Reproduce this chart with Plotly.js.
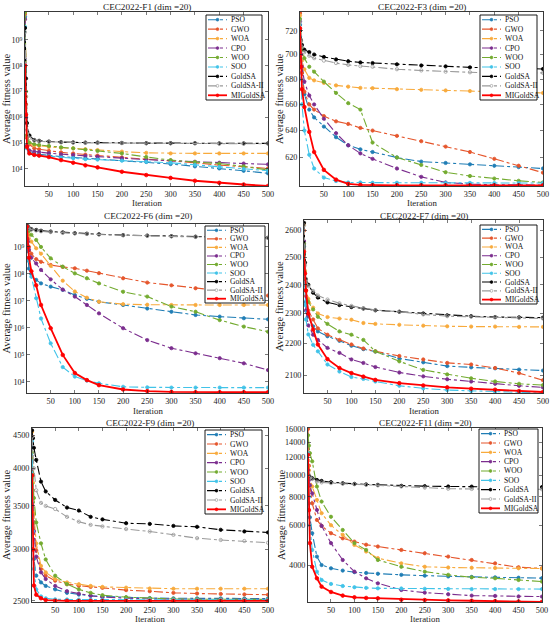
<!DOCTYPE html>
<html><head><meta charset="utf-8">
<script src="https://cdn.plot.ly/plotly-3.0.1.min.js"></script>
<style>html,body{margin:0;padding:0;background:#fff}#chart{width:550px;height:626px}</style>
</head><body><div id="chart"></div>
<script>
const iterations = [1, 3, 5, 10, 20, 30, 50, 75, 100, 125, 150, 200, 250, 300, 350, 400, 450, 500];
const algorithms = ['PSO', 'GWO', 'WOA', 'CPO', 'WOO', 'SOO', 'GoldSA', 'GoldSA-II', 'MIGoldSA'];
const xTickVals = [50, 100, 150, 200, 250, 300, 350, 400, 450, 500];
const panelTitles = ['CEC2022-F1 (dim =20)', 'CEC2022-F3 (dim =20)', 'CEC2022-F6 (dim =20)', 'CEC2022-F7 (dim =20)', 'CEC2022-F9 (dim =20)', 'CEC2022-F11 (dim =20)'];

// F1
const f1PSO = [7.9e9, 1.0e6, 7.9e4, 4.7e4, 4.0e4, 3.7e4, 3.3e4, 3.0e4, 2.8e4, 2.6e4, 2.5e4, 2.2e4, 1.86e4, 1.55e4, 1.26e4, 1.05e4, 8.5e3, 6.8e3];
const f1GWO = [1.0e10, 3.2e6, 1.6e5, 8.9e4, 6.3e4, 5.8e4, 5.0e4, 4.4e4, 4.0e4, 3.6e4, 3.3e4, 2.8e4, 2.4e4, 2.1e4, 1.74e4, 1.41e4, 1.2e4, 1.05e4];
const f1WOA = [1.2e10, 6.3e6, 2.0e5, 1.0e5, 8.3e4, 7.9e4, 7.1e4, 6.6e4, 6.3e4, 5.8e4, 5.4e4, 4.7e4, 4.2e4, 4.0e4, 4.0e4, 4.0e4, 4.0e4, 4.0e4];
const f1CPO = [6.3e9, 1.0e6, 7.9e4, 5.2e4, 4.7e4, 4.5e4, 4.1e4, 3.7e4, 3.5e4, 3.2e4, 3.0e4, 2.6e4, 2.3e4, 2.1e4, 1.9e4, 1.74e4, 1.62e4, 1.51e4];
const f1WOO = [1.2e10, 1.0e7, 2.0e5, 1.05e5, 9.1e4, 8.5e4, 7.8e4, 6.9e4, 6.3e4, 5.6e4, 5.0e4, 4.0e4, 2.9e4, 2.2e4, 1.86e4, 1.62e4, 1.26e4, 9.1e3];
const f1SOO = [3.2e9, 6.3e5, 6.3e4, 4.2e4, 3.6e4, 3.4e4, 3.1e4, 2.75e4, 2.6e4, 2.4e4, 2.3e4, 2.1e4, 1.9e4, 1.74e4, 1.45e4, 1.2e4, 1.0e4, 8.5e3];
const f1GoldSA = [2.9e9, 3.2e7, 6.0e5, 2.0e5, 1.32e5, 1.23e5, 1.15e5, 1.1e5, 1.07e5, 1.05e5, 1.05e5, 1.02e5, 1.0e5, 1.0e5, 1.0e5, 9.8e4, 9.8e4, 9.8e4];
const f1GoldSA2 = [2.0e9, 6.3e6, 3.2e5, 1.6e5, 1.26e5, 1.17e5, 1.12e5, 1.07e5, 1.05e5, 1.02e5, 1.02e5, 1.0e5, 9.8e4, 9.8e4, 9.8e4, 9.5e4, 9.5e4, 9.5e4];
const f1MIGoldSA = [1.0e8, 1.26e6, 7.1e4, 4.0e4, 3.5e4, 3.3e4, 2.9e4, 2.2e4, 1.74e4, 1.38e4, 1.15e4, 7.8e3, 5.8e3, 4.5e3, 3.5e3, 2.9e3, 2.5e3, 2.2e3];

// F3
const f3PSO = [725, 700, 685, 668, 656, 650, 643, 635, 629, 626, 624, 620, 617, 616, 615, 614, 613, 612];
const f3GWO = [735, 700, 685, 670, 660, 656, 651, 647, 645, 642, 640, 636, 632, 628, 624, 619, 614, 609];
const f3WOA = [733, 705, 695, 688, 681, 679, 677, 675, 674, 673, 672.8, 672, 671.5, 671, 670.5, 670, 669.5, 669];
const f3CPO = [728, 700, 690, 678, 667, 660, 649, 638, 629, 623, 619, 612, 606, 602, 600.8, 600.4, 600.3, 600.2];
const f3WOO = [730, 712, 705, 697, 690, 686, 678, 669, 661, 656, 631, 620, 614.6, 609.3, 606.6, 604.8, 603.2, 602];
const f3SOO = [715, 680, 660, 640, 622, 612, 605.5, 603, 602, 602, 601.8, 601.8, 601.8, 601.7, 601.7, 601.6, 601.6, 601.6];
const f3GoldSA = [720, 712, 708, 704, 702, 700, 698, 696, 694.5, 693.5, 693, 692, 691, 690.3, 689.5, 689, 688.5, 688.2];
const f3GoldSA2 = [728, 712, 706, 702, 699, 697, 695, 693, 691.5, 690.5, 690, 688, 687, 686, 685.5, 685, 685, 685];
const f3MIGoldSA = [722, 690, 672, 658, 639, 624, 611, 604, 601, 600.3, 600.1, 600, 600, 600, 600, 600, 600, 600];

// F6
const f6PSO = [1.26e9, 3.16e8, 1.58e8, 1.0e8, 6.03e7, 4.47e7, 3.39e7, 2.57e7, 1.66e7, 1.2e7, 9.33e6, 7.08e6, 5.25e6, 3.98e6, 3.02e6, 2.63e6, 2.29e6, 2.09e6];
const f6GWO = [6.31e9, 2.0e9, 1.0e9, 5.62e8, 3.55e8, 2.82e8, 2.14e8, 1.82e8, 1.62e8, 1.32e8, 1.07e8, 6.92e7, 4.79e7, 3.8e7, 2.95e7, 2.4e7, 1.9e7, 1.58e7];
const f6WOA = [6.61e9, 3.98e9, 2.82e9, 1.58e9, 8.91e8, 5.62e8, 2.0e8, 5.62e7, 2.24e7, 1.32e7, 9.33e6, 7.59e6, 7.24e6, 7.08e6, 7.08e6, 7.08e6, 7.08e6, 7.08e6];
const f6CPO = [6.31e9, 1.58e9, 7.94e8, 3.98e8, 2.45e8, 1.41e8, 6.31e7, 2.63e7, 1.45e7, 7.08e6, 3.47e6, 9.77e5, 3.55e5, 1.78e5, 1.15e5, 7.59e4, 4.9e4, 2.75e4];
const f6WOO = [7.08e9, 5.01e9, 3.98e9, 2.82e9, 1.82e9, 1.0e9, 3.8e8, 1.86e8, 1.05e8, 6.92e7, 4.47e7, 2.19e7, 1.45e7, 6.17e6, 3.98e6, 1.95e6, 1.12e6, 7.24e5];
const f6SOO = [5.01e9, 1.0e9, 3.16e8, 7.94e7, 1.26e7, 2.24e6, 2.69e5, 3.55e4, 1.58e4, 1.12e4, 8.91e3, 6.61e3, 6.31e3, 6.17e3, 6.17e3, 6.17e3, 6.17e3, 6.17e3];
const f6GoldSA = [6.61e9, 5.62e9, 5.01e9, 4.57e9, 4.27e9, 3.98e9, 3.72e9, 3.47e9, 3.24e9, 3.09e9, 2.95e9, 2.75e9, 2.63e9, 2.51e9, 2.4e9, 2.34e9, 2.24e9, 2.19e9];
const f6GoldSA2 = [6.31e9, 5.25e9, 4.79e9, 4.37e9, 4.07e9, 3.8e9, 3.55e9, 3.31e9, 3.16e9, 3.02e9, 2.88e9, 2.69e9, 2.57e9, 2.45e9, 2.34e9, 2.29e9, 2.19e9, 2.14e9];
const f6MIGoldSA = [5.62e9, 1.0e9, 3.98e8, 1.26e8, 3.8e7, 7.08e6, 9.77e5, 1.0e5, 2.14e4, 1.17e4, 7.59e3, 5.25e3, 4.57e3, 4.27e3, 4.17e3, 4.17e3, 4.17e3, 4.17e3];

// F7
const f7PSO = [2540, 2400, 2340, 2290, 2257, 2240, 2224, 2209, 2193, 2182, 2174, 2152, 2140, 2128, 2124, 2121, 2117, 2114];
const f7GWO = [2600, 2420, 2360, 2310, 2280, 2250, 2229, 2212, 2197, 2184, 2175, 2160, 2149, 2138, 2133, 2122, 2106, 2084];
const f7WOA = [2625, 2450, 2400, 2350, 2320, 2300, 2288, 2283, 2279, 2268, 2265, 2262, 2259, 2257, 2256, 2256, 2255, 2255];
const f7CPO = [2560, 2380, 2310, 2260, 2229, 2212, 2186, 2170, 2149, 2138, 2125, 2108, 2096, 2087, 2080, 2073, 2067, 2062];
const f7WOO = [2550, 2420, 2380, 2340, 2314, 2289, 2265, 2240, 2229, 2212, 2175, 2143, 2116, 2102, 2090, 2080, 2073, 2069];
const f7SOO = [2480, 2330, 2280, 2230, 2196, 2175, 2133, 2111, 2094, 2088, 2080, 2067, 2059, 2054, 2051, 2049, 2047, 2045];
const f7GoldSA = [2630, 2480, 2420, 2400, 2372, 2355, 2338, 2329, 2322, 2317, 2311, 2306, 2300, 2294, 2291, 2288, 2287, 2286];
const f7GoldSA2 = [2620, 2470, 2420, 2395, 2378, 2362, 2348, 2335, 2326, 2318, 2312, 2306, 2297, 2291, 2289, 2287, 2285, 2283];
const f7MIGoldSA = [2520, 2440, 2380, 2300, 2246, 2197, 2150, 2122, 2106, 2095, 2085, 2075, 2068, 2062, 2058, 2055, 2051, 2048];

// F9
const f9PSO = [3950, 3200, 2900, 2733, 2669, 2636, 2604, 2572, 2556, 2545, 2540, 2530, 2525, 2523, 2522, 2522, 2521, 2521];
const f9GWO = [4480, 3700, 3300, 2990, 2798, 2733, 2685, 2652, 2636, 2627, 2618, 2597, 2587, 2572, 2566, 2562, 2558, 2555];
const f9WOA = [4550, 3800, 3400, 3065, 2830, 2766, 2701, 2669, 2652, 2636, 2627, 2620, 2612, 2610, 2610, 2610, 2610, 2610];
const f9CPO = [4300, 3600, 3200, 2925, 2766, 2701, 2636, 2587, 2565, 2546, 2533, 2523, 2517, 2515, 2514, 2514, 2513, 2513];
const f9WOO = [4230, 3900, 3600, 3300, 3065, 2895, 2733, 2652, 2604, 2572, 2551, 2533, 2523, 2517, 2515, 2514, 2513, 2513];
const f9SOO = [4400, 3200, 2800, 2604, 2540, 2523, 2514, 2512, 2511, 2511, 2511, 2510, 2510, 2510, 2510, 2510, 2510, 2510];
const f9GoldSA = [4575, 4450, 4300, 4120, 3815, 3684, 3575, 3480, 3443, 3367, 3337, 3292, 3284, 3261, 3250, 3216, 3197, 3186];
const f9GoldSA2 = [4470, 4200, 4000, 3700, 3538, 3500, 3462, 3367, 3310, 3273, 3254, 3224, 3197, 3159, 3122, 3102, 3091, 3072];
const f9MIGoldSA = [3900, 3000, 2640, 2555, 2523, 2507, 2501, 2500, 2500, 2500, 2500, 2500, 2500, 2500, 2500, 2500, 2500, 2500];

// F11
const f11PSO = [9000, 7500, 6500, 5530, 4360, 4000, 3870, 3780, 3720, 3690, 3660, 3620, 3590, 3560, 3545, 3530, 3515, 3500];
const f11GWO = [16000, 11000, 9000, 7500, 6330, 5960, 5530, 5250, 5080, 4920, 4830, 4663, 4510, 4360, 4211, 4070, 3910, 3870];
const f11WOA = [12500, 10500, 9800, 8900, 7760, 6780, 6000, 5440, 4910, 4590, 4290, 4070, 3930, 3900, 3890, 3880, 3870, 3860];
const f11CPO = [10500, 9500, 9000, 8300, 7010, 5960, 5000, 4211, 3740, 3495, 3320, 3102, 3020, 2970, 2930, 2920, 2905, 2900];
const f11WOO = [15000, 13500, 12500, 11500, 8900, 7630, 6540, 5716, 5000, 4663, 4211, 3930, 3740, 3620, 3530, 3495, 3435, 3380];
const f11SOO = [12500, 8000, 6000, 4663, 3740, 3435, 3300, 3230, 3190, 3170, 3155, 3150, 3140, 3135, 3130, 3130, 3130, 3130];
const f11GoldSA = [10000, 9900, 9800, 9680, 9513, 9420, 9300, 9200, 9140, 9090, 9050, 8960, 8930, 8900, 8890, 8880, 8860, 8850];
const f11GoldSA2 = [10300, 10000, 9800, 9600, 9350, 9280, 9210, 9150, 9110, 9050, 9000, 8900, 8800, 8700, 8680, 8670, 8660, 8650];
const f11MIGoldSA = [12300, 7000, 5000, 3930, 3495, 3210, 3040, 2930, 2880, 2860, 2850, 2810, 2800, 2790, 2780, 2770, 2760, 2750];

// y tick values and labels
const f1YTicks = [1e4, 1e5, 1e6, 1e7, 1e8, 1e9];
const f1YLabels = ['10⁴', '10⁵', '10⁶', '10⁷', '10⁸', '10⁹'];
const f3YTicks = [620, 640, 660, 680, 700, 720];
const f6YTicks = [1e4, 1e5, 1e6, 1e7, 1e8, 1e9];
const f6YLabels = ['10⁴', '10⁵', '10⁶', '10⁷', '10⁸', '10⁹'];
const f7YTicks = [2100, 2200, 2300, 2400, 2500, 2600];
const f9YTicks = [2500, 3000, 3500, 4000, 4500];
const f11YTicks = [4000, 6000, 8000, 10000, 12000, 14000, 16000];

// ---- styling / layout (not data) ----
const W = 550, H = 626;
const FONT = 'Liberation Serif, Times New Roman, serif';
const colors = ['#1f7db5', '#e5562c', '#f8aa3c', '#7b2d8e', '#73ab30', '#41c3e8', '#000000', '#9a9a9a', '#ff0000'];
const symbols = ['circle', 'circle', 'circle', 'circle', 'circle', 'circle', 'circle', 'circle-open', 'circle'];

const panels = [
  {series: [f1PSO, f1GWO, f1WOA, f1CPO, f1WOO, f1SOO, f1GoldSA, f1GoldSA2, f1MIGoldSA], ticks: f1YTicks, labels: f1YLabels, range: [3.34, 10.08],
   box: [25, 12, 268, 186], leg: [206, 15, 262, 100], titleY: 7, xlabY: 203, ylabX: 6},
  {series: [f3PSO, f3GWO, f3WOA, f3CPO, f3WOO, f3SOO, f3GoldSA, f3GoldSA2, f3MIGoldSA], ticks: f3YTicks, labels: null, range: [Math.log10(599.5), Math.log10(736)],
   box: [300, 12, 543, 186], leg: [480, 15, 537, 100], titleY: 7, xlabY: 203, ylabX: 279},
  {series: [f6PSO, f6GWO, f6WOA, f6CPO, f6WOO, f6SOO, f6GoldSA, f6GoldSA2, f6MIGoldSA], ticks: f6YTicks, labels: f6YLabels, range: [3.59, 9.85],
   box: [27, 224, 268, 393], leg: [205, 226, 265, 303], titleY: 216, xlabY: 411, ylabX: 6},
  {series: [f7PSO, f7GWO, f7WOA, f7CPO, f7WOO, f7SOO, f7GoldSA, f7GoldSA2, f7MIGoldSA], ticks: f7YTicks, labels: null, range: [Math.log10(2045), Math.log10(2641)],
   box: [304, 220, 543, 393], leg: [480, 225, 537, 304], titleY: 216, xlabY: 411, ylabX: 279},
  {series: [f9PSO, f9GWO, f9WOA, f9CPO, f9WOO, f9SOO, f9GoldSA, f9GoldSA2, f9MIGoldSA], ticks: f9YTicks, labels: null, range: [Math.log10(2490), Math.log10(4613)],
   box: [32, 428, 268, 602], leg: [205, 430, 262, 514], titleY: 423, xlabY: 619, ylabX: 6},
  {series: [f11PSO, f11GWO, f11WOA, f11CPO, f11WOO, f11SOO, f11GoldSA, f11GoldSA2, f11MIGoldSA], ticks: f11YTicks, labels: null, range: [Math.log10(2745), Math.log10(16150)],
   box: [308, 428, 542, 602], leg: [479, 429, 538, 513], titleY: 423, xlabY: 619, ylabX: 281}
];

const traces = [];
const layout = {width: W, height: H, margin: {l: 0, r: 0, t: 0, b: 0}, paper_bgcolor: '#fff', plot_bgcolor: '#fff',
  showlegend: false, shapes: [], annotations: [], font: {family: FONT, size: 8}};

const axisCommon = {ticks: 'inside', ticklen: 3, tickwidth: 0.6, tickcolor: '#222', showline: true, linecolor: '#222', linewidth: 0.9,
  mirror: 'ticks', showgrid: false, zeroline: false, fixedrange: true, tickfont: {family: FONT, size: 8.2, color: '#222'}};

panels.forEach((p, k) => {
  const n = k === 0 ? '' : String(k + 1);
  const [bx0, by0, bx1, by1] = p.box;
  layout['xaxis' + n] = Object.assign({}, axisCommon, {domain: [bx0 / W, bx1 / W], anchor: 'y' + n, range: [1, 500],
    tickmode: 'array', tickvals: xTickVals, ticktext: xTickVals.map(String)});
  layout['yaxis' + n] = Object.assign({}, axisCommon, {domain: [1 - by1 / H, 1 - by0 / H], anchor: 'x' + n, type: 'log', range: p.range,
    tickmode: 'array', tickvals: p.ticks, ticktext: p.labels ? p.labels : p.ticks.map(String)});

  p.series.forEach((ys, i) => {
    const isMain = i === 8;
    traces.push({x: iterations, y: ys, type: 'scatter', mode: 'lines+markers', name: algorithms[i],
      xaxis: 'x' + n, yaxis: 'y' + n, showlegend: false,
      line: {color: colors[i], width: isMain ? 1.8 : 1.1, dash: isMain ? 'solid' : 'dashdot'},
      marker: {color: colors[i], size: isMain ? 3.6 : 3.3, symbol: symbols[i], line: {color: colors[i], width: 0.8}}});
  });

  const cx = (bx0 + bx1) / 2;
  layout.annotations.push({xref: 'paper', yref: 'paper', x: cx / W, y: 1 - p.titleY / H, xanchor: 'center', yanchor: 'middle',
    text: panelTitles[k], showarrow: false, font: {family: FONT, size: 9.2, color: '#222'}});
  layout.annotations.push({xref: 'paper', yref: 'paper', x: cx / W, y: 1 - p.xlabY / H, xanchor: 'center', yanchor: 'middle',
    text: 'Iteration', showarrow: false, font: {family: FONT, size: 8.8, color: '#222'}});
  layout.annotations.push({xref: 'paper', yref: 'paper', x: p.ylabX / W, y: 1 - (by0 + by1) / 2 / H, xanchor: 'center', yanchor: 'middle',
    text: 'Average fitness value', textangle: -90, showarrow: false, font: {family: FONT, size: 10.5, color: '#222'}});

  // legend box (drawn by hand so its rows can be as tight as the reference)
  const [lx0, ly0, lx1, ly1] = p.leg;
  layout.shapes.push({type: 'rect', xref: 'paper', yref: 'paper', x0: lx0 / W, x1: lx1 / W, y0: 1 - ly1 / H, y1: 1 - ly0 / H,
    line: {color: '#000', width: 0.9}, fillcolor: '#fff', layer: 'above'});
  const rowH = (ly1 - ly0) / algorithms.length;
  algorithms.forEach((a, i) => {
    const cy = ly0 + rowH * (i + 0.5);
    const isMain = i === 8;
    layout.shapes.push({type: 'line', xref: 'paper', yref: 'paper', x0: (lx0 + 2) / W, x1: (lx0 + 21) / W, y0: 1 - cy / H, y1: 1 - cy / H,
      line: {color: colors[i], width: isMain ? 1.8 : 1.1, dash: isMain ? 'solid' : 'dashdot'}, layer: 'above'});
    const r = 1.4;
    layout.shapes.push({type: 'circle', xref: 'paper', yref: 'paper', x0: (lx0 + 11.5 - r) / W, x1: (lx0 + 11.5 + r) / W,
      y0: 1 - (cy + r) / H, y1: 1 - (cy - r) / H, fillcolor: symbols[i] === 'circle-open' ? '#fff' : colors[i],
      line: {color: colors[i], width: 0.7}, layer: 'above'});
    layout.annotations.push({xref: 'paper', yref: 'paper', x: (lx0 + 22.5) / W, y: 1 - cy / H, xanchor: 'left', yanchor: 'middle',
      text: a, showarrow: false, font: {family: FONT, size: 7.6, color: '#111'}});
  });
});

Plotly.newPlot('chart', traces, layout, {displayModeBar: false, staticPlot: true});
</script>
</body></html>
